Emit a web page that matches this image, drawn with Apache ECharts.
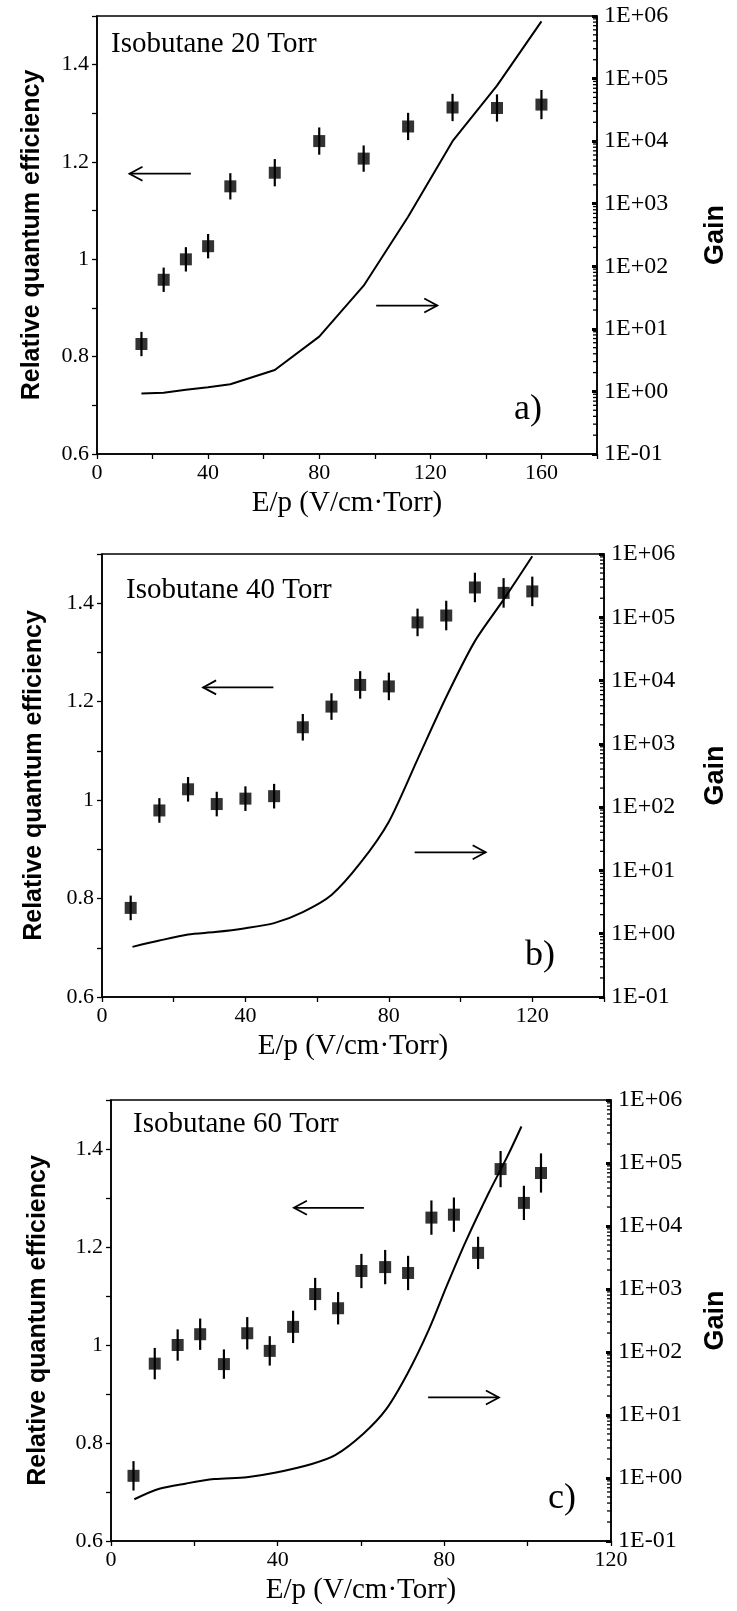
<!DOCTYPE html>
<html><head><meta charset="utf-8">
<script src="https://cdn.jsdelivr.net/npm/echarts@6/dist/echarts.min.js"></script>
<style>html,body{margin:0;padding:0;background:#fff}#c{width:737px;height:1611px}</style>
</head><body><div id="c"></div>
<script>
// ---- Panel a) Isobutane 20 Torr ----
const epA   = [16, 24, 32, 40, 48, 64, 80, 96, 112, 128, 144, 160];
const qeA   = [0.826, 0.958, 1.0, 1.027, 1.15, 1.178, 1.243, 1.207, 1.273, 1.312, 1.311, 1.318];
const errA  = [0.025, 0.025, 0.025, 0.025, 0.027, 0.028, 0.028, 0.027, 0.028, 0.028, 0.028, 0.03];
const gainXA = [16, 24, 32, 40, 48, 64, 80, 96, 112, 128, 144, 160];
const gainA  = [0.93, 0.95, 1.06, 1.17, 1.3, 2.2, 7.5, 49, 620, 10000, 77000, 820000];
const arrowsA = [[33.8, 11.7, 1.176], [100.5, 122.5, 0.905]];

// ---- Panel b) Isobutane 40 Torr ----
const epB   = [8, 16, 24, 32, 40, 48, 56, 64, 72, 80, 88, 96, 104, 112, 120];
const qeB   = [0.781, 0.979, 1.022, 0.992, 1.003, 1.008, 1.148, 1.19, 1.234, 1.231, 1.361, 1.375, 1.432, 1.421, 1.424];
const errB  = [0.025, 0.025, 0.025, 0.025, 0.025, 0.025, 0.027, 0.027, 0.028, 0.028, 0.028, 0.03, 0.03, 0.03, 0.03];
const gainXB = [8.5, 16, 24, 31.5, 40, 48, 56, 64, 72, 80, 88, 96, 104, 112, 120];
const gainB  = [0.62, 0.78, 0.97, 1.06, 1.22, 1.47, 2.2, 4.1, 13, 59, 570, 5500, 42000, 190000, 920000];
const arrowsB = [[47.8, 28.2, 1.229], [87.2, 107, 0.894]];

// ---- Panel c) Isobutane 60 Torr ----
const epC   = [5.4, 10.5, 16, 21.4, 27.1, 32.7, 38.1, 43.7, 49, 54.5, 60.1, 65.8, 71.3, 76.9, 82.3, 88.1, 93.5, 99.1, 103.2];
const qeC   = [0.733, 0.962, 1.0, 1.022, 0.961, 1.024, 0.988, 1.037, 1.104, 1.075, 1.151, 1.159, 1.147, 1.26, 1.266, 1.188, 1.359, 1.29, 1.351];
const errC  = [0.03, 0.032, 0.032, 0.032, 0.03, 0.033, 0.03, 0.033, 0.033, 0.033, 0.035, 0.035, 0.035, 0.035, 0.035, 0.033, 0.037, 0.035, 0.04];
const gainXC = [5.6, 11.4, 18.1, 24.8, 32.6, 39.3, 48.2, 53.8, 60.5, 66.1, 71.2, 76.2, 80.7, 85.1, 90.7, 95.1, 98.5];
const gainC  = [0.46, 0.67, 0.82, 0.96, 1.03, 1.21, 1.67, 2.3, 5.0, 12.5, 46, 220, 1170, 5600, 34000, 126000, 380000];
const arrowsC = [[60.7, 43.9, 1.28], [76.1, 93.1, 0.893]];

// ---- Axes / labels ----
const qeTickLabels = ['0.6', '0.8', '1', '1.2', '1.4'];
const xTickLabels  = ['0', '40', '80', '120', '160'];
const gainMinorMult = [2, 3, 4, 5, 6, 7, 8, 9];
const gainDecades   = [-1, 0, 1, 2, 3, 4, 5];
const panelTitles = ['Isobutane 20 Torr', 'Isobutane 40 Torr', 'Isobutane 60 Torr'];
const panelLetters = ['a)', 'b)', 'c)'];
const xName = 'E/p (V/cm\u00B7Torr)';
const yLeftName = 'Relative quantum efficiency';
const yRightName = 'Gain';

const panels = [
  {ep: epA, qe: qeA, err: errA, gx: gainXA, g: gainA, arrows: arrowsA, xMax: 180, smooth: false,
   grid: {left: 97, top: 16, width: 505, height: 438}, title: {left: 111, top: 30}, letter: {left: 514, top: 392},
   leftGap: 52, rightGap: 105},
  {ep: epB, qe: qeB, err: errB, gx: gainXB, g: gainB, arrows: arrowsB, xMax: 140, smooth: 0.25,
   grid: {left: 102, top: 554, width: 507, height: 443}, title: {left: 126, top: 576}, letter: {left: 525, top: 938},
   leftGap: 55, rightGap: 98},
  {ep: epC, qe: qeC, err: errC, gx: gainXC, g: gainC, arrows: arrowsC, xMax: 120, smooth: 0.3,
   grid: {left: 111, top: 1100, width: 506, height: 441}, title: {left: 133, top: 1110}, letter: {left: 548, top: 1481},
   leftGap: 60, rightGap: 91}
];

const serif = '"Liberation Serif", "DejaVu Serif", serif';
const sans = '"Liberation Sans", Arial, sans-serif';
const black = '#000';

const minorTickValues = [];
gainDecades.forEach(d => gainMinorMult.forEach(m => minorTickValues.push(m * Math.pow(10, d))));

const option = {
  animation: false,
  backgroundColor: '#fff',
  title: [], grid: [], xAxis: [], yAxis: [], series: []
};

panels.forEach((p, i) => {
  option.grid.push(Object.assign({show: true, borderColor: black, borderWidth: 1.5, containLabel: false}, p.grid));
  option.title.push({text: panelTitles[i], left: p.title.left, top: p.title.top, padding: 0,
    textStyle: {fontFamily: serif, fontSize: 29, fontWeight: 'normal', color: black}});
  option.title.push({text: panelLetters[i], left: p.letter.left, top: p.letter.top, padding: 0,
    textStyle: {fontFamily: serif, fontSize: 36, fontWeight: 'normal', color: black}});
  option.xAxis.push({
    type: 'value', gridIndex: i, min: 0, max: p.xMax, interval: 20,
    name: xName, nameLocation: 'middle', nameGap: 35,
    nameTextStyle: {fontFamily: serif, fontSize: 29, color: black},
    axisLine: {show: true, onZero: false, lineStyle: {color: black, width: 1.6}},
    axisTick: {show: true, length: 5, lineStyle: {color: black, width: 1.3}},
    axisLabel: {margin: 8, fontFamily: serif, fontSize: 22, color: black,
      formatter: v => xTickLabels.indexOf(String(Math.round(v))) >= 0 ? String(Math.round(v)) : ''},
    splitLine: {show: false}
  });
  option.yAxis.push({
    type: 'value', gridIndex: i, min: 0.6, max: 1.5, interval: 0.1, position: 'left',
    name: yLeftName, nameLocation: 'middle', nameGap: p.leftGap, nameRotate: 90,
    nameTextStyle: {fontFamily: sans, fontSize: 25, fontWeight: 'bold', color: black},
    axisLine: {show: true, onZero: false, lineStyle: {color: black, width: 1.6}},
    axisTick: {show: true, length: 5, lineStyle: {color: black, width: 1.3}},
    axisLabel: {margin: 8, fontFamily: serif, fontSize: 22, color: black,
      formatter: v => { const s = String(Math.round(v * 10) / 10); return qeTickLabels.indexOf(s) >= 0 ? s : ''; }},
    splitLine: {show: false}
  });
  option.yAxis.push({
    type: 'log', gridIndex: i, min: 0.1, max: 1e6, logBase: 10, splitNumber: 7, position: 'right',
    name: yRightName, nameLocation: 'middle', nameGap: p.rightGap, nameRotate: 90,
    nameTextStyle: {fontFamily: sans, fontSize: 27, fontWeight: 'bold', color: black},
    axisLine: {show: true, onZero: false, lineStyle: {color: black, width: 1.6}},
    axisTick: {show: true, inside: true, length: 5, lineStyle: {color: black, width: 3}},
    axisLabel: {margin: 7, fontFamily: serif, fontSize: 24, color: black,
      formatter: v => { const e = Math.round(Math.log10(v)); return '1E' + (e < 0 ? '-' : '+') + String(Math.abs(e)).padStart(2, '0'); }},
    splitLine: {show: false}
  });
  const xi = i, yl = 2 * i, yr = 2 * i + 1;
  // gain curve
  option.series.push({
    type: 'line', xAxisIndex: xi, yAxisIndex: yr, showSymbol: false, smooth: p.smooth,
    lineStyle: {color: black, width: 2}, data: p.gx.map((x, k) => [x, p.g[k]]), z: 2
  });
  // error bars
  option.series.push({
    type: 'custom', xAxisIndex: xi, yAxisIndex: yl, z: 3,
    data: p.ep.map((x, k) => [x, p.qe[k], p.err[k]]),
    renderItem: (params, api) => {
      const x = api.value(0), y = api.value(1), e = api.value(2);
      const a = api.coord([x, y + e]), b = api.coord([x, y - e]);
      return {type: 'line', shape: {x1: a[0], y1: a[1], x2: b[0], y2: b[1]}, style: {stroke: black, lineWidth: 2.2}};
    }
  });
  // QE points
  option.series.push({
    type: 'scatter', xAxisIndex: xi, yAxisIndex: yl, symbol: 'rect', symbolSize: 12, z: 4,
    itemStyle: {color: black}, data: p.ep.map((x, k) => [x, p.qe[k]])
  });
  // arrows
  option.series.push({
    type: 'custom', xAxisIndex: xi, yAxisIndex: yl, z: 3, data: p.arrows,
    renderItem: (params, api) => {
      const a = api.coord([api.value(0), api.value(2)]), b = api.coord([api.value(1), api.value(2)]);
      const dir = b[0] > a[0] ? 1 : -1;
      return {type: 'group', children: [
        {type: 'line', shape: {x1: a[0], y1: a[1], x2: b[0], y2: b[1]}, style: {stroke: black, lineWidth: 1.8}},
        {type: 'polyline', shape: {points: [[b[0] - dir * 13, b[1] - 7], [b[0], b[1]], [b[0] - dir * 13, b[1] + 7]]},
         style: {stroke: black, fill: null, lineWidth: 1.8}}
      ]};
    }
  });
  // log minor ticks on gain axis
  option.series.push({
    type: 'custom', xAxisIndex: xi, yAxisIndex: yr, z: 3, data: minorTickValues.map(v => [p.xMax, v]),
    renderItem: (params, api) => {
      const c = api.coord([api.value(0), api.value(1)]);
      return {type: 'line', shape: {x1: c[0] - 4, y1: c[1], x2: c[0] + 1, y2: c[1]}, style: {stroke: black, lineWidth: 1.3}};
    }
  });
});

const chart = echarts.init(document.getElementById('c'), null, {renderer: 'canvas'});
chart.setOption(option);
</script></body></html>
